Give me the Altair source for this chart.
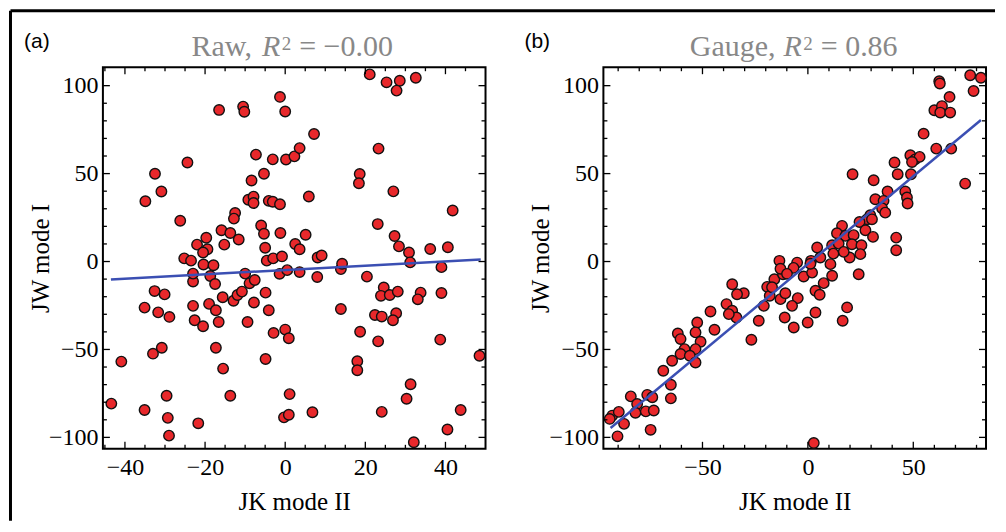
import altair as alt
import pandas as pd

# ---------------- data ----------------
RAW_JK = [
    21.1, 25.3, 28.6, 27.8, 32.6, -16.5, -10.5, -10.2, -1.3, 0.0,
    7.2, 23.3, -34.9, -32.5, -30.9, -24.4, -26.2, -7.3, -5.3, -8.4,
    -3.1, 0.2, 2.3, 3.6, 5.9, -9.2, -7.9, -7.9, -4.1, -3.1,
    -1.3, 18.6, 18.4, 27.0, 41.8, 23.1, -12.5, -12.8, -15.9, -13.7,
    -11.6, -15.2, -19.7, -22.0, -19.4, -20.5, -6.0, -5.3, -1.2, -5.0,
    2.5, 3.6, 5.1, -4.6, -3.0, -0.8, 8.1, 9.1, 27.3, 28.4,
    30.9, 31.2, 36.2, 40.6, -25.2, -23.5, -20.4, -17.9, -43.4, -40.9,
    -35.1, -29.6, -29.3, -29.0, -33.0, -30.8, -35.1, -32.6, -30.1, -31.7,
    -28.9, -21.7, -23.0, -22.6, -20.5, -23.0, -23.0, -18.7, -17.5, -19.0,
    -17.3, -16.6, -15.6, -17.3, -15.5, -13.7, -12.9, -11.9, -10.8, -9.4,
    -7.8, -10.0, -8.9, -7.6, -4.9, -4.1, -4.9, -2.9, 0.0, 0.9,
    -1.4, 0.5, 3.6, 8.0, 1.1, -0.3, 0.9, 6.8, 13.9, 13.9,
    14.2, 20.4, 18.7, 18.0, 18.0, 23.2, 22.4, 24.1, 24.1, 24.6,
    23.9, 26.1, 28.1, 27.7, 26.9, 30.3, 31.3, 32.1, 33.8, 33.1,
    39.0, 39.0, 38.7, 40.5, 43.8, 48.5]
RAW_JW = [
    106.4, 101.9, 102.8, 97.2, 104.5, 86.2, 88.1, 85.2, 93.6, 85.3,
    72.5, 64.2, 34.3, 49.9, 39.8, 56.3, 23.2, 60.8, 49.9, 46.1,
    58.1, 58.0, 59.8, 64.5, 37.0, 35.1, 36.9, 33.3, 34.5, 34.0,
    32.6, 49.8, 44.5, 39.9, 29.0, 21.3, 27.6, 24.4, 17.8, 16.2,
    12.5, 9.6, 13.5, 9.6, 7.0, 5.1, 20.5, 15.8, 16.2, 7.8,
    10.0, 7.0, 15.2, 0.5, 1.8, 2.9, 2.3, 3.4, 14.5, 8.6,
    5.1, -0.5, 7.1, 8.1, 1.8, 0.5, -1.7, -2.1, -80.8, -56.9,
    -84.4, -76.3, -88.9, -99.0, -52.4, -49.0, -26.2, -16.8, -18.7, -28.9,
    -31.5, -92.0, -25.2, -33.4, -36.8, -11.4, -6.9, -8.2, -12.8, -24.1,
    -27.7, -34.4, -20.3, -49.0, -60.9, -76.3, -22.3, -19.0, -17.1, -34.4,
    -23.3, -6.9, -12.4, -10.5, -17.7, -27.7, -55.4, -40.6, -38.7, -43.6,
    -7.0, -4.9, -6.0, -8.8, -75.4, -88.6, -87.1, -85.7, -27.0, -4.3,
    -1.3, -8.6, -39.9, -56.7, -61.8, -45.4, -30.4, -31.3, -85.5, -14.8,
    -19.5, -19.0, -17.1, -29.4, -33.4, -78.0, -69.8, -102.8, -17.7, -21.5,
    -17.9, -3.2, -44.4, -95.5, -84.4, -53.6]

GAUGE_JK = [
    77.0, 82.1, 78.6, 62.3, 62.6, 67.2, 60.0, 63.6, 62.8, 67.5,
    54.9, 60.9, 68.0, 74.6, 48.6, 50.9, 53.0, 49.4, 41.1, 42.6,
    48.9, 21.2, 31.2, 37.8, 46.2, 47.0, 47.3, 32.0, 35.9, 35.2,
    36.7, 29.6, 28.1, 30.4, 24.5, 27.3, 30.9, 16.2, 13.8, 17.8,
    21.7, 20.9, 25.4, 11.5, 14.6, 4.4, 41.9, 41.9, -5.1, -6.8,
    1.5, 5.9, 10.7, 11.5, -2.0, 2.0, 7.5, 3.6, 5.6, -4.8,
    -7.5, 3.6, -0.1, -6.7, 18.6, 16.5, 24.1, 19.8, 24.9, 2.8,
    -13.5, -15.9, -11.8, -19.3, -18.1, -13.0, -10.7, -20.9, -11.0, -23.3,
    -26.8, -13.0, -9.9, -17.0, 1.2, -35.9, -30.4, -33.6, -38.6, -35.9,
    -33.9, -37.5, -46.2, -52.5, -44.3, -53.3, -61.7, -60.4, -50.9, -58.5,
    -53.3, -60.4, -56.0, -64.4, -53.3, -68.6, -65.0, -65.0, -84.0, -81.0,
    -81.8, -76.2, -73.8, -76.9, -73.1, -74.6, -92.8, -89.7, -87.2, -90.3,
    -94.0, 17.0, 12.1]
GAUGE_JW = [
    105.9, 104.5, 97.0, 102.5, 101.2, 93.6, 86.0, 88.4, 84.7, 84.7,
    72.7, 64.2, 64.2, 44.3, 60.4, 58.1, 59.5, 56.6, 56.3, 49.6,
    49.6, 49.6, 46.2, 39.8, 39.8, 36.4, 33.0, 35.4, 34.5, 30.3,
    27.8, 26.3, 24.0, 24.0, 22.5, 17.8, 14.0, 20.3, 16.1, 14.6,
    15.0, 9.8, 9.3, 9.3, 10.2, 8.0, 13.6, 6.4, -0.6, -3.6,
    0.4, 2.3, -1.5, -8.1, -8.5, -6.3, -12.3, -16.6, -18.9, -20.8,
    -25.2, -29.0, -34.7, -37.5, -26.1, -33.7, -7.2, 2.3, 4.2, -103.2,
    0.4, -10.1, -7.2, -14.4, -19.5, -21.4, -18.0, -25.2, -31.8, -33.7,
    -44.5, -4.1, -7.0, -14.6, -1.3, -12.9, -18.0, -18.6, -24.2, -28.0,
    -31.8, -29.9, -28.4, -34.7, -38.8, -40.3, -40.9, -44.1, -45.6, -49.8,
    -49.8, -52.6, -53.6, -56.4, -57.4, -62.1, -70.1, -77.8, -76.7, -81.0,
    -86.0, -75.8, -77.2, -85.2, -84.7, -95.7, -87.6, -85.5, -92.3, -99.4,
    -89.5, 5.5, 4.5]

# fitted lines (end points)
FIT_RAW_JK = [-43.5, 48.8]
FIT_RAW_JW = [-10.2, 1.2]
FIT_GAUGE_JK = [-93.6, 82.1]
FIT_GAUGE_JW = [-94.7, 80.5]

X_DOMAIN_RAW = [-45.5, 50]
X_DOMAIN_GAUGE = [-97, 84.5]
Y_DOMAIN = [-106.5, 110.5]

X_MAJOR_RAW = [-40, -20, 0, 20, 40]
X_MINOR_RAW = [-45, -35, -30, -25, -15, -10, -5, 5, 10, 15, 25, 30, 35, 45]
X_MAJOR_GAUGE = [-50, 0, 50]
X_MINOR_GAUGE = [-90, -80, -70, -60, -40, -30, -20, -10, 10, 20, 30, 40, 60, 70, 80]
Y_MAJOR = [-100, -50, 0, 50, 100]
Y_MINOR = [-90, -80, -70, -60, -40, -30, -20, -10, 10, 20, 30, 40, 60, 70, 80, 90]

# ---------------- styling ----------------
W, H = 383, 382
SERIF = "Liberation Serif"
SANS = "Liberation Sans"
RED = "#e8282b"
BLUE = "#3b4fb3"
GREY = "#888888"


def text_layer(txt, x, y, size, color="black", font=SERIF, style="normal"):
    return alt.Chart(pd.DataFrame({"t": [txt]})).mark_text(
        align="left", baseline="alphabetic", font=font, fontSize=size,
        fontStyle=style, color=color, fontWeight="normal",
    ).encode(text="t:N", x=alt.value(x), y=alt.value(y))


def panel(xs, ys, fx, fy, xdom, xmaj, xmin, title_parts, tag, extra=()):
    xscale = alt.Scale(domain=xdom, nice=False, zero=False)
    yscale = alt.Scale(domain=Y_DOMAIN, nice=False, zero=False)
    xaxis = alt.Axis(values=xmaj, ticks=False, domain=False, grid=False,
                     labelFont=SERIF, labelFontSize=24, labelColor="black",
                     labelPadding=7, labelOverlap=False, labelFlush=False,
                     title="JK mode II", titleFont=SERIF, titleFontSize=25,
                     titleFontWeight="normal", titleColor="black", titlePadding=10)
    yaxis = alt.Axis(values=Y_MAJOR, ticks=False, domain=False, grid=False,
                     labelFont=SERIF, labelFontSize=24, labelColor="black",
                     labelPadding=5, labelOverlap=False, labelFlush=False,
                     title="JW mode I", titleFont=SERIF, titleFontSize=25,
                     titleFontWeight="normal", titleColor="black", titlePadding=-5)

    def X(field):
        return alt.X(field, scale=xscale, axis=xaxis)

    def Y(field):
        return alt.Y(field, scale=yscale, axis=yaxis)

    def tick_rules(vals, channel, side, length):
        m = alt.Chart(pd.DataFrame({"v": vals})).mark_rule(color="black", strokeWidth=1.3)
        if channel == "x":
            enc = {"x": X("v:Q")}
            if side == "bottom":
                enc.update(y=alt.value(H), y2=alt.value(H - length))
            else:
                enc.update(y=alt.value(0), y2=alt.value(length))
        else:
            enc = {"y": Y("v:Q")}
            if side == "left":
                enc.update(x=alt.value(0), x2=alt.value(length))
            else:
                enc.update(x=alt.value(W), x2=alt.value(W - length))
        return m.encode(**enc)

    pts = alt.Chart(pd.DataFrame({"x": xs, "y": ys})).mark_circle(
        size=110, fill=RED, stroke="#111111", strokeWidth=1.4, opacity=1
    ).encode(x=X("x:Q"), y=Y("y:Q"))
    line = alt.Chart(pd.DataFrame({"x": fx, "y": fy})).mark_line(
        color=BLUE, strokeWidth=2.5
    ).encode(x=X("x:Q"), y=Y("y:Q"))
    layers = [pts, line]
    for vals, ln in ((xmaj, 7), (xmin, 4)):
        layers.append(tick_rules(vals, "x", "bottom", ln))
        layers.append(tick_rules(vals, "x", "top", ln))
    for vals, ln in ((Y_MAJOR, 7), (Y_MINOR, 4)):
        layers.append(tick_rules(vals, "y", "left", ln))
        layers.append(tick_rules(vals, "y", "right", ln))
    for (txt, x, y, size, style) in title_parts:
        layers.append(text_layer(txt, x, y, size, GREY, SERIF, style))
    layers.append(text_layer(tag, -79, -19, 21, "black", SANS))
    layers.extend(extra)
    return alt.layer(*layers).properties(width=W, height=H)


border = [
    alt.Chart(pd.DataFrame({"k": [0]})).mark_rule(color="black", strokeWidth=3).encode(
        x=alt.value(-92.5), y=alt.value(-56.5), y2=alt.value(454)),
    alt.Chart(pd.DataFrame({"k": [0]})).mark_rule(color="black", strokeWidth=3).encode(
        x=alt.value(-92.5), x2=alt.value(893), y=alt.value(-56.5)),
]

title_raw = [("Raw,", 88.7, -11, 30, "normal"), ("R", 159.2, -11, 30, "italic"),
             ("2", 179.0, -17, 19, "normal"), ("= \u22120.00", 196.5, -11, 30, "normal")]
title_gauge = [("Gauge,", 86.5, -11, 30, "normal"), ("R", 180.3, -11, 30, "italic"),
               ("2", 200.1, -17, 19, "normal"), ("= 0.86", 217.6, -11, 30, "normal")]

left = panel(RAW_JK, RAW_JW, FIT_RAW_JK, FIT_RAW_JW, X_DOMAIN_RAW,
             X_MAJOR_RAW, X_MINOR_RAW, title_raw, "(a)", extra=border)
right = panel(GAUGE_JK, GAUGE_JW, FIT_GAUGE_JK, FIT_GAUGE_JW, X_DOMAIN_GAUGE,
              X_MAJOR_GAUGE, X_MINOR_GAUGE, title_gauge, "(b)")

chart = alt.hconcat(left, right, spacing=118, bounds="flush").properties(
    padding=0, background="white"
).configure_view(stroke="black", strokeWidth=2)

chart.save("out.html", embed_options={"renderer": "svg", "actions": False})
